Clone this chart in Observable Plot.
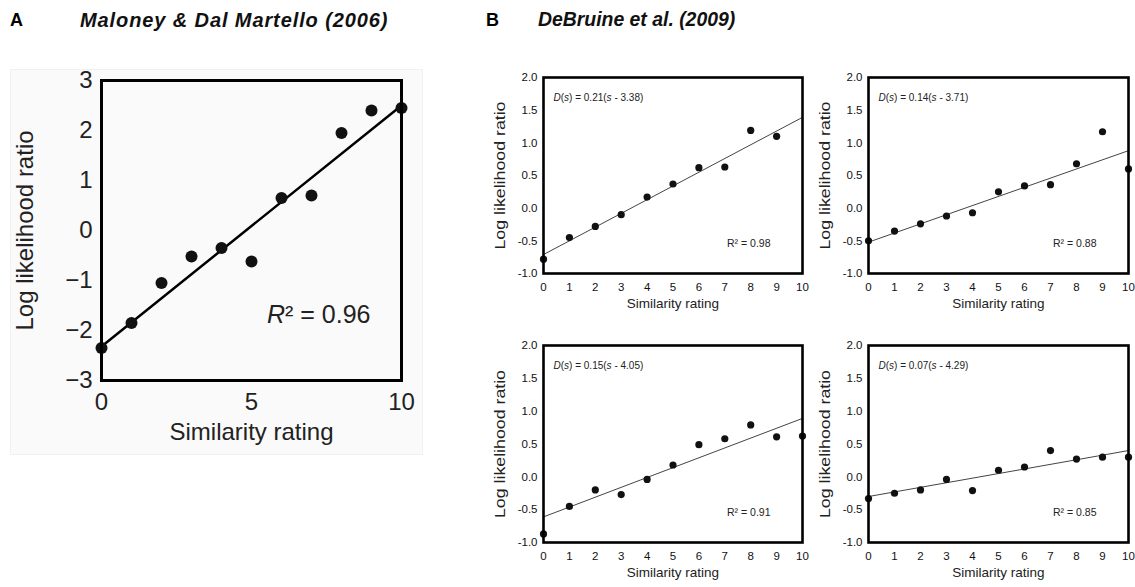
<!DOCTYPE html>
<html><head><meta charset="utf-8">
<script src="https://cdn.jsdelivr.net/npm/d3@7"></script>
<script src="https://cdn.jsdelivr.net/npm/@observablehq/plot@0.6"></script>
<style>
body{margin:0;background:#fff;width:1135px;height:587px;overflow:hidden;position:relative;font-family:Arial,"Liberation Sans",sans-serif;color:#000}
.abs{position:absolute}
.letter{font-weight:bold;font-size:18px;line-height:1}
.ttl{font-weight:bold;font-style:italic;line-height:1;color:#111}
.abs svg{background:transparent !important;max-width:none !important}
</style></head><body>
<div class="abs" style="left:10px;top:69px;width:411px;height:384px;background:#fafafa;border:1px solid #f1f1f1"></div>
<div class="abs letter" style="left:10px;top:11px">A</div>
<div class="abs ttl" style="left:80px;top:10px;font-size:20px;letter-spacing:0.9px">Maloney &amp; Dal Martello (2006)</div>
<div class="abs letter" style="left:486px;top:11px">B</div>
<div class="abs ttl" style="left:538px;top:10px;font-size:19.4px">DeBruine et al. (2009)</div>
<div id="pA" class="abs" style="left:0px;top:60px;width:420px"></div>
<div id="pB1" class="abs" style="left:480px;top:60px;width:330px"></div>
<div id="pB2" class="abs" style="left:805px;top:60px;width:330px"></div>
<div id="pB3" class="abs" style="left:480px;top:328px;width:330px"></div>
<div id="pB4" class="abs" style="left:805px;top:328px;width:330px"></div>
<script>
// ---- data ----
const ratingsA = [0,1,2,3,4,5,6,7,8,9,10];
const llrA = [-2.35,-1.85,-1.05,-0.52,-0.35,-0.62,0.65,0.70,1.95,2.40,2.45];
const fitXA = [0,10];
const fitYA = [-2.32,2.50];
const r2A = "R² = 0.96";
const xTicksA = [0,5,10];
const yTicksA = [-3,-2,-1,0,1,2,3];

const ratingsB1 = [0,1,2,3,4,5,6,7,8,9];
const llrB1 = [-0.78,-0.45,-0.28,-0.10,0.17,0.37,0.62,0.63,1.19,1.10];
const fitYB1 = [-0.71,1.39];
const eqB1 = "D(s) = 0.21(s - 3.38)";
const r2B1 = "R² = 0.98";

const ratingsB2 = [0,1,2,3,4,5,6,7,8,9,10];
const llrB2 = [-0.50,-0.35,-0.24,-0.12,-0.07,0.25,0.34,0.36,0.68,1.17,0.60];
const fitYB2 = [-0.52,0.88];
const eqB2 = "D(s) = 0.14(s - 3.71)";
const r2B2 = "R² = 0.88";

const ratingsB3 = [0,1,2,3,4,5,6,7,8,9,10];
const llrB3 = [-0.87,-0.45,-0.20,-0.27,-0.04,0.18,0.49,0.58,0.79,0.61,0.62];
const fitYB3 = [-0.61,0.89];
const eqB3 = "D(s) = 0.15(s - 4.05)";
const r2B3 = "R² = 0.91";

const ratingsB4 = [0,1,2,3,4,5,6,7,8,9,10];
const llrB4 = [-0.33,-0.25,-0.20,-0.04,-0.21,0.10,0.15,0.40,0.27,0.30,0.30];
const fitYB4 = [-0.30,0.40];
const eqB4 = "D(s) = 0.07(s - 4.29)";
const r2B4 = "R² = 0.85";

const fitXB = [0,10];
const xTicksB = [0,1,2,3,4,5,6,7,8,9,10];
const yTicksB = [-1.0,-0.5,0.0,0.5,1.0,1.5,2.0];
const xLabel = "Similarity rating";
const yLabel = "Log likelihood ratio";

const FONT = 'Arial, "Liberation Sans", sans-serif';

// ---- panel A ----
{
  const data = ratingsA.map((x,i)=>({x, y: llrA[i]}));
  const fit = fitXA.map((x,i)=>({x, y: fitYA[i]}));
  const svg = Plot.plot({
    width: 420, height: 400,
    marginLeft: 101, marginRight: 19, marginTop: 20, marginBottom: 80,
    style: {fontSize: "24px", fontFamily: FONT, background: "transparent", color: "#222"},
    x: {domain: [0,10], ticks: xTicksA, tickSize: 0, tickPadding: 12, label: null, tickFormat: d => String(d)},
    y: {domain: [-3,3], ticks: yTicksA, tickSize: 0, tickPadding: 9, label: null, tickFormat: d => (d < 0 ? "\u2212" : "") + Math.abs(d)},
    marks: [
      Plot.line(fit, {x: "x", y: "y", stroke: "#000", strokeWidth: 2.5}),
      Plot.dot(data, {x: "x", y: "y", r: 6, fill: "#111", stroke: "none"}),
      Plot.frame({stroke: "#000", strokeWidth: 3}),
      Plot.text([r2A], {frameAnchor: "bottom-right", dx: -31, dy: -58, textAnchor: "end", fontSize: 25, fill: "#222"}),
      Plot.text([yLabel], {frameAnchor: "left", dx: -76, rotate: -90, textAnchor: "middle", fontSize: 24, fill: "#222"}),
      Plot.text([xLabel], {frameAnchor: "bottom", dy: 59, textAnchor: "middle", fontSize: 24, fill: "#222"})
    ]
  });
  d3.select(svg).selectAll("text").filter(function(){return this.textContent===r2A;}).each(function(){
    const el = d3.select(this); el.text("");
    el.append("tspan").attr("font-style","italic").text("R");
    el.append("tspan").text(r2A.slice(1));
  });
  document.getElementById("pA").appendChild(svg);
}

// ---- panels B ----
function panelB(id, xs, ys, fitY, eq, r2, height, marginBottom, marginRight){
  const data = xs.map((x,i)=>({x, y: ys[i]}));
  const fit = fitXB.map((x,i)=>({x, y: fitY[i]}));
  const svg = Plot.plot({
    width: 330, height,
    marginLeft: 63, marginRight, marginTop: 17, marginBottom,
    style: {fontSize: "11.5px", fontFamily: FONT, background: "transparent", color: "#111"},
    x: {domain: [0,10], ticks: xTicksB, tickSize: 0, tickPadding: 9, label: null, tickFormat: d => String(d)},
    y: {domain: [-1,2], ticks: yTicksB, tickSize: 0, tickPadding: 6, label: null, tickFormat: d => d.toFixed(1)},
    marks: [
      Plot.line(fit, {x: "x", y: "y", stroke: "#444", strokeWidth: 1}),
      Plot.dot(data, {x: "x", y: "y", r: 3.6, fill: "#111", stroke: "none"}),
      Plot.frame({stroke: "#000", strokeWidth: 2.6}),
      Plot.text([eq], {frameAnchor: "top-left", dx: 10, dy: 16, textAnchor: "start", fontSize: 10, fill: "#222"}),
      Plot.text([r2], {frameAnchor: "bottom-right", dx: -32, dy: -27, textAnchor: "end", fontSize: 10.5, fill: "#222"}),
      Plot.text([yLabel], {frameAnchor: "left", dx: -43, rotate: -90, textAnchor: "middle", fontSize: 14.5, fill: "#222"}),
      Plot.text([xLabel], {frameAnchor: "bottom", dy: 34, textAnchor: "middle", fontSize: 13.5, fill: "#222"})
    ]
  });
  const s = d3.select(svg);
  s.selectAll("text").filter(function(){return this.textContent===yLabel;}).attr("textLength", 148).attr("lengthAdjust","spacingAndGlyphs");
  s.selectAll("text").filter(function(){return this.textContent===eq;}).each(function(){
    const el = d3.select(this); const m = eq.match(/^D\(s\)( = [0-9.]+\()s( - [0-9.]+\))$/);
    el.text("");
    el.append("tspan").attr("font-style","italic").text("D");
    el.append("tspan").text("(");
    el.append("tspan").attr("font-style","italic").text("s");
    el.append("tspan").text(")" + m[1]);
    el.append("tspan").attr("font-style","italic").text("s");
    el.append("tspan").text(m[2]);
  });
  document.getElementById(id).appendChild(svg);
}
panelB("pB1", ratingsB1, llrB1, fitYB1, eqB1, r2B1, 260, 47, 8);
panelB("pB2", ratingsB2, llrB2, fitYB2, eqB2, r2B2, 260, 47, 7);
panelB("pB3", ratingsB3, llrB3, fitYB3, eqB3, r2B3, 259, 45, 8);
panelB("pB4", ratingsB4, llrB4, fitYB4, eqB4, r2B4, 259, 45, 7);
</script>
</body></html>
